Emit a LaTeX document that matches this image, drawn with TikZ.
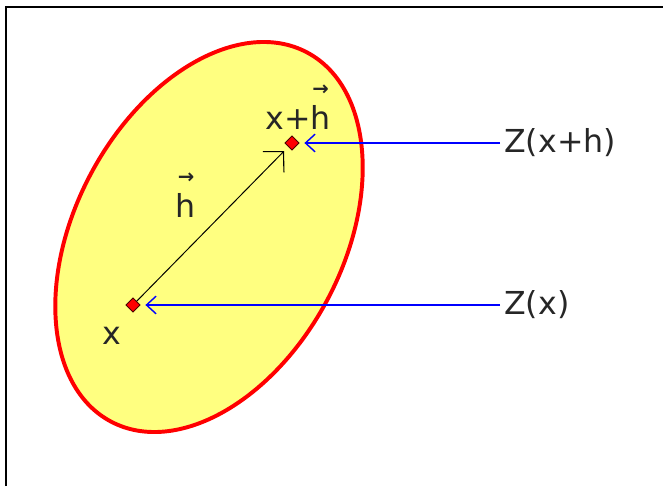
\documentclass[tikz,border=0pt]{standalone}
\usepackage{amsmath}
\usepackage{fontspec}
\setmainfont{DejaVu Sans}
\usepackage{xcolor}
\usetikzlibrary{arrows.meta,positioning,shapes.geometric}

\definecolor{zonefill}{RGB}{255,255,128}
\newcommand{\hvec}{\ensuremath{\overset{\raisebox{0.12em}{\fontsize{14}{14}\selectfont\bfseries →}}{\text{h}}}}

\begin{document}
\begin{tikzpicture}[
  pointmark/.style={draw=black!70!red, fill=red, diamond, inner sep=0pt, minimum size=0.36cm, line width=0.6pt},
  lbl/.style={font=\fontsize{22.5}{26}\selectfont, text=black!85, inner sep=0.1cm},
  vecarrow/.style={-{Straight Barb[length=3.6mm, width=7.4mm, line width=0.8pt]}, line width=0.7pt},
  ptrarrow/.style={-{Straight Barb[length=2.4mm, width=4.4mm, line width=1pt]}, blue, line width=1.1pt}
]
\useasboundingbox (0,0) rectangle (16.575,12.15);
% frame
\draw[line width=1.4pt] (0.15,0) -- (0.15,11.975) -- (16.575,11.975);
% region
\draw[red, fill=zonefill, line width=2.8pt, rotate around={62:(5.225,6.225)}]
  (5.225,6.225) ellipse [x radius=5.225, y radius=3.35];
% points
\node[pointmark] (x) at (3.325,4.525) {};
\node[pointmark] (xh) at (7.3,8.575) {};
\node[lbl] (xlbl) at (2.8,3.75) {x};
\node[lbl] (xhlbl) at (7.45,9.5) {x+\hvec};
\node[lbl] (hlbl) at (4.65,7.3) {\hvec};
\node[lbl, anchor=west] (zxh) at (12.5,8.575) {Z(x+h)};
\node[lbl, anchor=west] (zx) at (12.5,4.525) {Z(x)};
% connectors
\draw[vecarrow, shorten >=0.15cm] (x) -- (xh);
\draw[ptrarrow, shorten >=0.12cm] (zxh.west) -- (xh);
\draw[ptrarrow, shorten >=0.12cm] (zx.west) -- (x);
\end{tikzpicture}
\end{document}
